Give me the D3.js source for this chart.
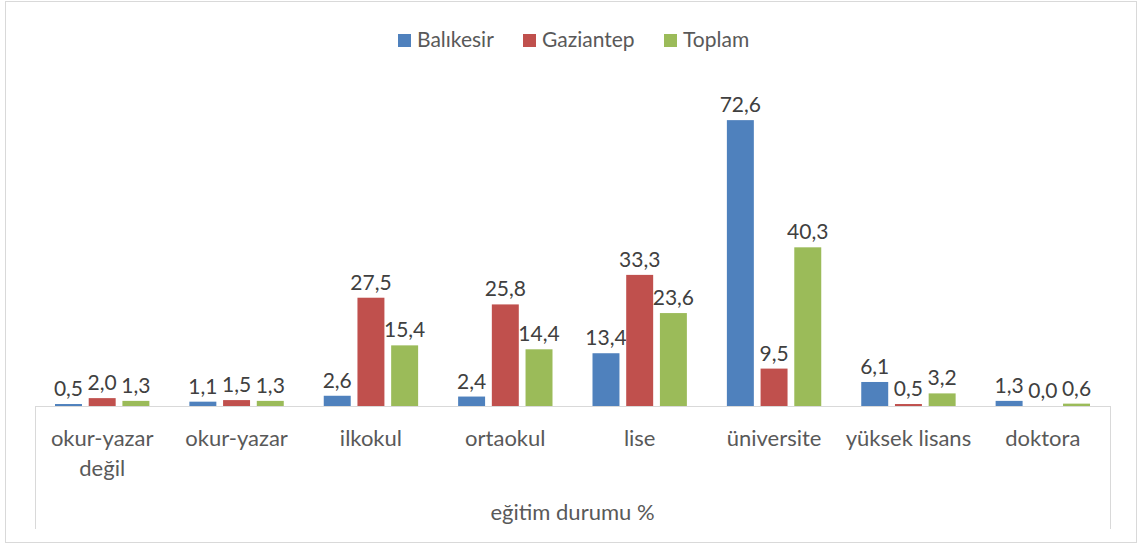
<!DOCTYPE html>
<html><head><meta charset="utf-8">
<script src="https://cdn.jsdelivr.net/npm/d3@7"></script>
<style>body{margin:0;background:#fff}svg{display:block}</style>
</head><body>
<script>
const categories = [["okur-yazar","değil"],["okur-yazar"],["ilkokul"],["ortaokul"],["lise"],["üniversite"],["yüksek lisans"],["doktora"]];
const seriesNames = ["Balıkesir","Gaziantep","Toplam"];
const balikesir = [0.5,1.1,2.6,2.4,13.4,72.6,6.1,1.3];
const gaziantep = [2.0,1.5,27.5,25.8,33.3,9.5,0.5,0.0];
const toplam = [1.3,1.3,15.4,14.4,23.6,40.3,3.2,0.6];
const colors = ["#4f81bd","#c0504d","#9bbb59"];
const axisTitle = "eğitim durumu %";

const W=1140,H=544;
const font="Lato, 'Open Sans', sans-serif";
const svg=d3.select("body").append("svg").attr("width",W).attr("height",H);
svg.append("rect").attr("x",5.5).attr("y",1.5).attr("width",1131).attr("height",541)
  .attr("fill","#fff").attr("stroke","#d9d9d9");

const left=35,right=1110,base=406,sepBottom=529;
const x0=d3.scaleBand().domain(d3.range(categories.length)).range([left,right]).paddingInner(0).paddingOuter(0);
const x1=d3.scaleBand().domain(d3.range(3)).range([20,x0.bandwidth()-20]).paddingInner(0.2).paddingOuter(0);
const y=d3.scaleLinear().domain([0,80]).range([base,base-315]);

const data=[balikesir,gaziantep,toplam];
const fmt=v=>v.toFixed(1).replace(".",",");

const g=svg.append("g");
categories.forEach((c,i)=>{
  data.forEach((s,j)=>{
    const v=s[i];
    const bx=x0(i)+x1(j);
    g.append("rect").attr("x",bx).attr("y",y(v)).attr("width",x1.bandwidth())
      .attr("height",Math.max(0,base-y(v))).attr("fill",colors[j]);
    g.append("text").attr("x",bx+x1.bandwidth()/2).attr("y",y(v)-8)
      .attr("text-anchor","middle").attr("font-family",font).attr("font-size",21)
      .attr("fill","#404040").text(fmt(v));
  });
  c.forEach((line,k)=>{
    g.append("text").attr("x",x0(i)+x0.bandwidth()/2).attr("y",446+k*30)
      .attr("text-anchor","middle").attr("font-family",font).attr("font-size",22)
      .attr("fill","#595959").text(line);
  });
});
// axis line and outer separators
svg.append("line").attr("x1",left).attr("x2",right).attr("y1",base+0.5).attr("y2",base+0.5).attr("stroke","#d9d9d9");
[left,right].forEach(xv=>{
  const xx=Math.round(xv)+0.5;
  svg.append("line").attr("x1",xx).attr("x2",xx).attr("y1",base).attr("y2",sepBottom).attr("stroke","#d9d9d9");
});
svg.append("text").attr("x",(left+right)/2).attr("y",520).attr("text-anchor","middle")
  .attr("font-family",font).attr("font-size",22).attr("fill","#595959").text(axisTitle);

// legend
const legX=[398,523,664];
seriesNames.forEach((n,j)=>{
  svg.append("rect").attr("x",legX[j]).attr("y",34).attr("width",13).attr("height",13).attr("fill",colors[j]);
  svg.append("text").attr("x",legX[j]+19).attr("y",47).attr("font-family",font).attr("font-size",21)
    .attr("fill","#595959").text(n);
});
</script>
</body></html>
